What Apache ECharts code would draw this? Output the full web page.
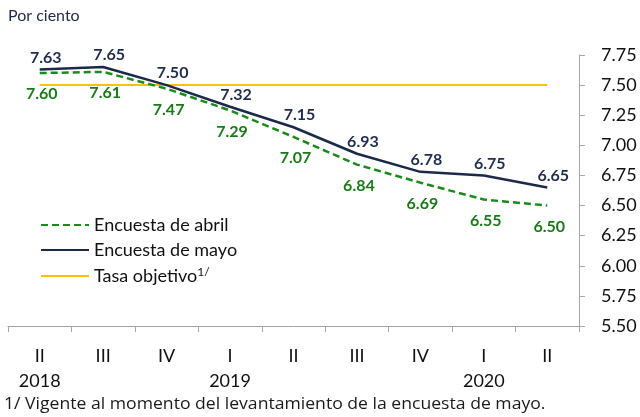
<!DOCTYPE html>
<html lang="es">
<head>
	<meta charset="UTF-8" />
	<title>Encuesta - tasa objetivo</title>
	<script src="https://cdn.jsdelivr.net/npm/echarts@6/dist/echarts.min.js"></script>
	<style>
		html, body { margin: 0; padding: 0; background: #fff; }
		#main { width: 640px; height: 417px; }
	</style>
</head>
<body>
<div id="main"></div>
<script>
	// trimestres y años del eje x
	var quarters = ['II', 'III', 'IV', 'I', 'II', 'III', 'IV', 'I', 'II'];
	var years = ['2018', '', '', '2019', '', '', '', '2020', ''];

	// valores de las encuestas
	var abril = [7.60, 7.61, 7.47, 7.29, 7.07, 6.84, 6.69, 6.55, 6.50];
	var mayo = [7.63, 7.65, 7.50, 7.32, 7.15, 6.93, 6.78, 6.75, 6.65];
	var tasaObjetivo = [7.50, 7.50, 7.50, 7.50, 7.50, 7.50, 7.50, 7.50, 7.50];

	// ticks del eje y
	var yMin = 5.50, yMax = 7.75, yStep = 0.25;

	var font = 'Lato';
	var navy = '#1b2a48';
	var green = '#1a8a1a';
	var yellow = '#ffc000';
	var clear = 'rgba(0,0,0,0)';

	var catIdx = quarters.map(function (q, i) { return String(i); });

	var mychart = echarts.init(document.getElementById('main'));
	mychart.setOption({
		animation: false,
		textStyle: { fontFamily: font },
		grid: { left: 8, right: 61, top: 55, bottom: 91 },
		graphic: [
			{ type: 'text', left: 8, top: 8, style: { text: 'Por ciento', font: '16px ' + font, fill: '#1f2a44' } },
			{ type: 'text', x: 4, y: 396, scaleX: 1.1, style: { text: '1/ Vigente al momento del levantamiento de la encuesta de mayo.', font: '16px "Open Sans"', fill: '#1a1a1a' } }
		],
		legend: {
			orient: 'vertical',
			left: 35,
			top: 211,
			itemWidth: 48,
			itemHeight: 12,
			itemGap: 7,
			itemStyle: { opacity: 0 },
			textStyle: {
				fontSize: 18, color: '#111',
				rich: {
					s: { fontSize: 12, verticalAlign: 'top', padding: [0, 0, 8, 0], color: '#111' }
				}
			},
			formatter: function (name) {
				return name === 'Tasa objetivo' ? name + '{s|1/}' : name;
			},
			data: ['Encuesta de abril', 'Encuesta de mayo', 'Tasa objetivo']
		},
		xAxis: {
			type: 'category',
			data: catIdx,
			boundaryGap: true,
			axisLine: { lineStyle: { color: '#a6a6a6', width: 1 } },
			axisTick: { show: true, length: 6, lineStyle: { color: '#a6a6a6' } },
			axisLabel: {
				margin: 18,
				fontSize: 18,
				lineHeight: 25,
				color: '#111',
				interval: 0,
				formatter: function (v, i) {
					return quarters[i] + '\n' + (years[i] || ' ');
				}
			}
		},
		yAxis: {
			type: 'value',
			position: 'right',
			min: yMin,
			max: yMax,
			interval: yStep,
			splitLine: { show: false },
			axisLine: { show: true, lineStyle: { color: '#a6a6a6', width: 1 } },
			axisTick: { show: true, length: 6, lineStyle: { color: '#a6a6a6' } },
			axisLabel: {
				margin: 22,
				fontSize: 18,
				color: '#111',
				formatter: function (v) { return v.toFixed(2); }
			}
		},
		series: [
			{
				name: 'Tasa objetivo',
				type: 'line',
				data: tasaObjetivo,
				symbol: 'none',
				lineStyle: { color: yellow, width: 2 },
				itemStyle: { color: yellow },
				z: 1
			},
			{
				name: 'Encuesta de abril',
				type: 'line',
				data: abril,
				symbol: 'circle',
				symbolSize: 2,
				showSymbol: true,
				lineStyle: { color: green, width: 2.5, type: [7, 4] },
				itemStyle: { color: clear, borderWidth: 0 },
				label: {
					show: true,
					position: 'bottom',
					distance: 12,
					offset: [2, 0],
					fontSize: 16,
					fontWeight: 'bold',
					color: '#1a7a1a',
					formatter: function (p) { return p.value.toFixed(2); }
				},
				z: 2
			},
			{
				name: 'Encuesta de mayo',
				type: 'line',
				data: mayo,
				symbol: 'circle',
				symbolSize: 2,
				showSymbol: true,
				lineStyle: { color: navy, width: 2.5 },
				itemStyle: { color: clear, borderWidth: 0 },
				label: {
					show: true,
					position: 'top',
					distance: 6,
					offset: [6, 3],
					fontSize: 16,
					fontWeight: 'bold',
					color: '#1f2d4d',
					formatter: function (p) { return p.value.toFixed(2); }
				},
				z: 3
			}
		]
	});
</script>
</body>
</html>
